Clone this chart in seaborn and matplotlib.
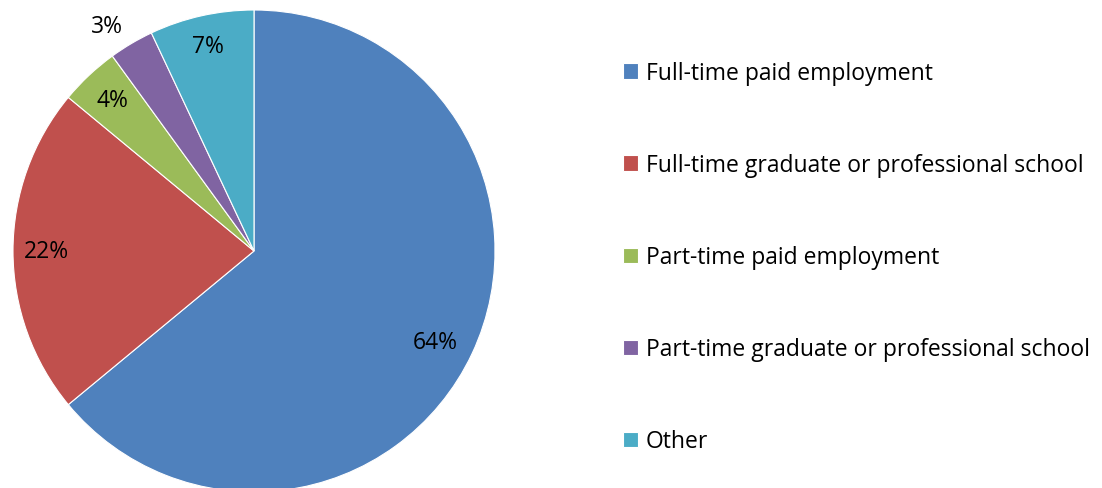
import numpy as np
import matplotlib
matplotlib.use("Agg")
import matplotlib.pyplot as plt
import seaborn as sns

categories = ["Full-time paid employment",
              "Full-time graduate or professional school",
              "Part-time paid employment",
              "Part-time graduate or professional school",
              "Other"]
values = [64, 22, 4, 3, 7]
pct_labels = ["64%", "22%", "4%", "3%", "7%"]
colors = ["#4F81BD", "#C0504D", "#9BBB59", "#8064A2", "#4BACC6"]

sns.set_theme(style="white")
plt.rcParams['font.family'] = ['Open Sans', 'DejaVu Sans']
plt.rcParams['text.color'] = 'black'

fig = plt.figure(figsize=(11.02, 4.89), dpi=100)
ax = fig.add_axes([13/1102, (489-493)/489, 482/1102, 482/489])
palette = sns.color_palette(colors)
wedges, _ = ax.pie(values, colors=palette, startangle=90, counterclock=False,
                   wedgeprops=dict(edgecolor="white", linewidth=0.8), radius=1.0)
ax.set_xlim(-1, 1)
ax.set_ylim(-1, 1)
ax.set_aspect("equal")

dists = [0.84, 0.86, 0.86, 1.115, 0.87]
ang_off = [-1.5, 0, 0, 2.5, 0]
for w, lab, d, o in zip(wedges, pct_labels, dists, ang_off):
    ang = np.deg2rad((w.theta1 + w.theta2) / 2 + o)
    ax.text(d * np.cos(ang), d * np.sin(ang), lab, ha="center", va="center",
            fontsize=16.5, color="black", clip_on=False)

leg = fig.legend(wedges, categories, loc="upper left",
                 bbox_to_anchor=(614/1102, 1 - 53/489), frameon=False,
                 fontsize=16.5, handlelength=0.66, handleheight=0.66,
                 handletextpad=0.33, labelspacing=2.97, borderaxespad=0,
                 labelcolor="black")

fig.savefig("out.png", dpi=100)
